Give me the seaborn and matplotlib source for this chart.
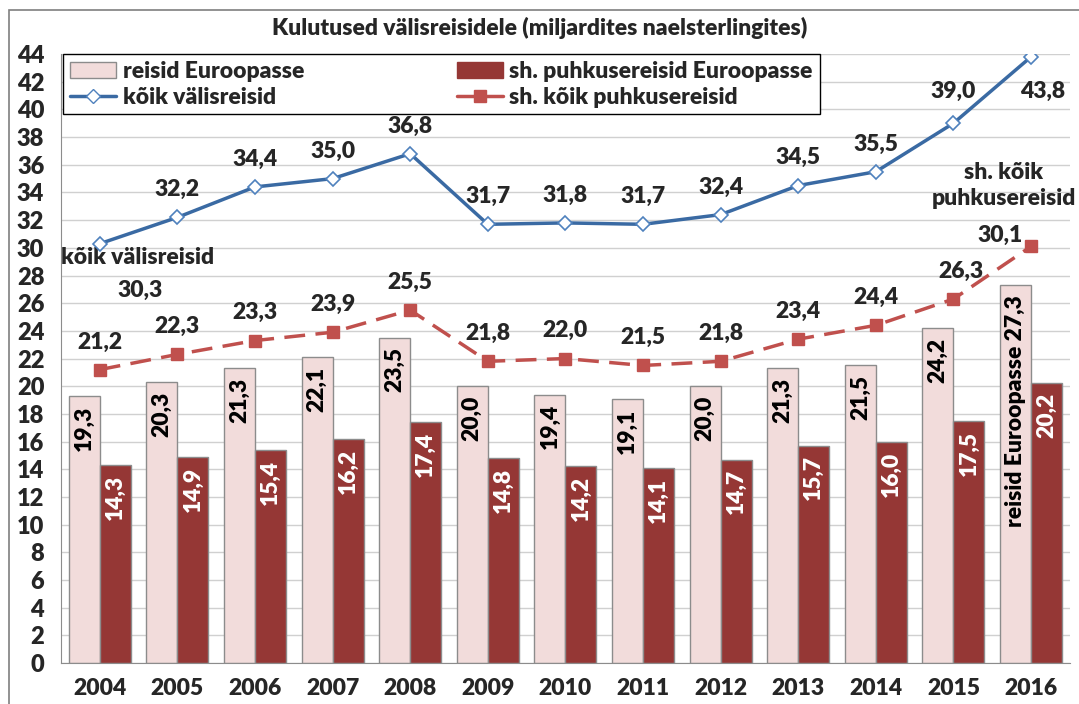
import numpy as np
import pandas as pd
import matplotlib
matplotlib.use("Agg")
import matplotlib.pyplot as plt
from matplotlib.patches import Rectangle
from matplotlib.lines import Line2D
import seaborn as sns

years = ["2004", "2005", "2006", "2007", "2008", "2009", "2010",
         "2011", "2012", "2013", "2014", "2015", "2016"]
europe = [19.3, 20.3, 21.3, 22.1, 23.5, 20.0, 19.4, 19.1, 20.0, 21.3, 21.5, 24.2, 27.3]
europe_holiday = [14.3, 14.9, 15.4, 16.2, 17.4, 14.8, 14.2, 14.1, 14.7, 15.7, 16.0, 17.5, 20.2]
all_trips = [30.3, 32.2, 34.4, 35.0, 36.8, 31.7, 31.8, 31.7, 32.4, 34.5, 35.5, 39.0, 43.8]
all_holiday = [21.2, 22.3, 23.3, 23.9, 25.5, 21.8, 22.0, 21.5, 21.8, 23.4, 24.4, 26.3, 30.1]

s_eu = "reisid Euroopasse"
s_euh = "sh. puhkusereisid Euroopasse"
s_all = "kõik välisreisid"
s_allh = "sh. kõik puhkusereisid"

sns.set_style("white")
plt.rcParams["font.family"] = ["Lato", "DejaVu Sans"]
W = "heavy"

df = pd.DataFrame({
    "year": years * 2,
    "value": europe + europe_holiday,
    "series": [s_eu] * len(years) + [s_euh] * len(years),
})

fig = plt.figure(figsize=(10.79, 7.04), dpi=100)
ax = fig.add_axes([0.0565, 0.0582, 0.935, 0.865])

sns.barplot(data=df, x="year", y="value", hue="series", order=years,
            hue_order=[s_eu, s_euh], palette=["#F2DCDB", "#953735"],
            width=0.8, edgecolor="#8c8c8c", linewidth=1, saturation=1,
            legend=False, ax=ax)

xs = np.arange(len(years))
ax.plot(xs, all_trips, color="#3A6AA3", lw=2.5, marker="D", ms=7,
        mfc="white", mec="#4F81BD", mew=1.2, zorder=5)
ax.plot(xs, all_holiday, color="#C0504D", lw=2.5, dashes=(6, 3), marker="s",
        ms=9, mfc="#C0504D", mec="#C0504D", zorder=5)

# bar value labels, rotated inside the bar top
fs = 16.5
for cont, vals, col in zip(ax.containers, [europe, europe_holiday], ["black", "white"]):
    for i, (bar, v) in enumerate(zip(cont, vals)):
        lab = f"{v:.1f}".replace(".", ",")
        if col == "black" and i == len(vals) - 1:
            lab = "reisid Euroopasse " + lab
        ax.text(bar.get_x() + bar.get_width() / 2, bar.get_height() - 0.7, lab,
                rotation=90, ha="center", va="top", color=col,
                fontsize=fs, fontweight=W)

# line value labels
for i, v in enumerate(all_trips):
    lab = f"{v:.1f}".replace(".", ",")
    x, y = i, v + 2.0
    if i == 0:
        x, y = 0.52, 26.9
    elif i == len(all_trips) - 1:
        x, y = 12.15, 41.3
    elif i == 11:
        y = v + 2.3
    ax.text(x, y, lab, ha="center", va="center", fontsize=fs, fontweight=W)

for i, v in enumerate(all_holiday):
    lab = f"{v:.1f}".replace(".", ",")
    x, y = i, v + 2.0
    if i == len(all_holiday) - 1:
        x, y = 11.6, 30.9
    elif i == 11:
        x = 11.1
    ax.text(x, y, lab, ha="center", va="center", fontsize=fs, fontweight=W)

ax.text(-0.5, 29.3, s_all, ha="left", va="center", fontsize=fs, fontweight=W)
ax.text(11.65, 34.5, "sh. kõik\npuhkusereisid", ha="center", va="center",
        fontsize=fs, fontweight=W, linespacing=1.3)

ax.set_ylim(0, 44)
ax.set_xlim(-0.5, len(years) - 0.5)
ax.set_yticks(np.arange(0, 45, 2))
ax.yaxis.grid(True, color="#d0d0d0", lw=1)
ax.set_axisbelow(True)
ax.set_xlabel("")
ax.set_ylabel("")
ax.set_xticks(xs)
ax.set_xticklabels(years)
ax.set_xticks(np.arange(-0.5, len(years)), minor=True)
ax.tick_params(axis="x", which="major", length=0, labelsize=16.5, pad=11)
ax.tick_params(axis="x", which="minor", length=6, direction="out", color="#8c8c8c")
ax.tick_params(axis="y", length=8, direction="out", color="#8c8c8c",
               labelsize=17, pad=4)
for t in ax.get_xticklabels() + ax.get_yticklabels():
    t.set_fontweight(W)
for sp in ["top", "right"]:
    ax.spines[sp].set_visible(False)
for sp in ["left", "bottom"]:
    ax.spines[sp].set_color("#8c8c8c")

handles = [
    Rectangle((0, 0), 1, 1, facecolor="#F2DCDB", edgecolor="#8c8c8c"),
    Line2D([], [], color="#3A6AA3", lw=2.5, marker="D", ms=7, mfc="white", mec="#4F81BD"),
    Rectangle((0, 0), 1, 1, facecolor="#953735", edgecolor="#953735"),
    Line2D([], [], color="#C0504D", lw=2.5, marker="s", ms=9, mfc="#C0504D", mec="#C0504D"),
]
leg = ax.legend(handles, [s_eu, s_all, s_euh, s_allh], ncol=2,
                loc="upper left", bbox_to_anchor=(0.002, 1.0, 0.75, 0.0),
                mode="expand", frameon=True, fancybox=False, framealpha=1,
                edgecolor="black", fontsize=16.5, handlelength=2.0,
                handletextpad=0.3, borderpad=0.3, labelspacing=0.2,
                borderaxespad=0, columnspacing=1)
leg.get_frame().set_linewidth(1)
for t in leg.get_texts():
    t.set_fontweight(W)

fig.text(0.5, 0.96, "Kulutused välisreisidele (miljardites naelsterlingites)",
         ha="center", va="center", fontsize=16.5, fontweight=W)
fig.patches.append(Rectangle((0.0083, -0.02), 1.1, 0.986 + 0.02,
                             transform=fig.transFigure, fill=False,
                             edgecolor="#7f7f7f", lw=1.2))

fig.savefig("out.png", dpi=100)
